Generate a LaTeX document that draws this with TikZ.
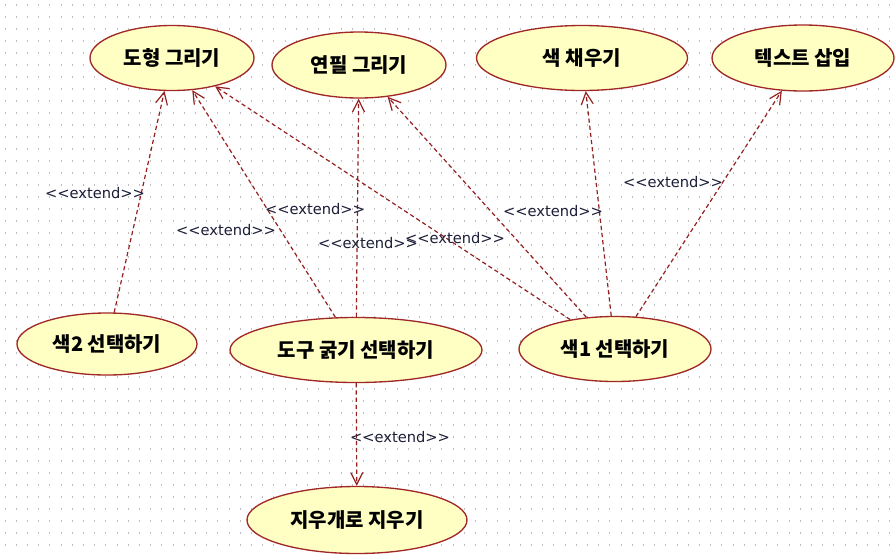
\documentclass[tikz,border=0pt]{standalone}
\usepackage{fontspec}
\newfontfamily\krfont{Noto Sans CJK KR}
\newfontfamily\lblfont{DejaVu Sans}
\usetikzlibrary{shapes.geometric,arrows.meta}
\definecolor{ucfill}{HTML}{FFFFC4}
\definecolor{ucline}{HTML}{A02828}
\definecolor{extline}{HTML}{962020}
\definecolor{lbltext}{HTML}{1C1E38}
\definecolor{griddot}{HTML}{BEBEBE}
\tikzset{
  usecase/.style={ellipse, draw=ucline, fill=ucfill, line width=1pt, inner sep=0pt,
    font=\krfont\bfseries\fontsize{15pt}{17pt}\selectfont},
  ucwh/.style 2 args={minimum width=#1*0.75pt, minimum height=#2*0.75pt},
  extend/.style={draw=extline, line width=0.9pt, dash pattern=on 3.2pt off 2.2pt,
    -{Straight Barb[length=9pt,width=9pt]}},
  lbl/.style={font=\lblfont\fontsize{11pt}{13pt}\selectfont, text=lbltext, inner sep=0pt}
}
\begin{document}
\begin{tikzpicture}[x=0.75pt,y=-0.75pt,line join=round]
  \fill[white] (0,0) rectangle (896,554);
  \useasboundingbox (0,0) rectangle (896,554);
  \foreach \r in {0,...,45}
    \draw[griddot, line width=0.8pt, dash pattern=on 0.8pt off 7.6pt] (4.6,5+12*\r) -- (896,5+12*\r);

  \node[usecase, ucwh={164}{65}] (shape) at (172,58) {도형 그리기};
  \node[usecase, ucwh={174}{66}] (pencil) at (359,65) {연필 그리기};
  \node[usecase, ucwh={211}{65}] (fill) at (582,58) {색 채우기};
  \node[usecase, ucwh={182}{66}] (textins) at (803,58) {텍스트 삽입};
  \node[usecase, ucwh={180}{62}] (color2) at (107,344) {색2 선택하기};
  \node[usecase, ucwh={252}{65}] (thick) at (356,350) {도구 굵기 선택하기};
  \node[usecase, ucwh={192}{65}] (color1) at (615,349) {색1 선택하기};
  \node[usecase, ucwh={220}{67}] (eraser) at (357,520) {지우개로 지우기};

  \draw[extend] (color2) -- (shape);
  \draw[extend] (thick) -- (shape);
  \draw[extend] (thick) -- (pencil);
  \draw[extend] (color1) -- (shape);
  \draw[extend] (color1) -- (pencil);
  \draw[extend] (color1) -- (fill);
  \draw[extend] (color1) -- (textins);
  \draw[extend] (thick) -- (eraser);

  \node[lbl] (ext1) at (95,193) {<<extend>>};
  \node[lbl] (ext2) at (226,230) {<<extend>>};
  \node[lbl] (ext3) at (315,209) {<<extend>>};
  \node[lbl] (ext4) at (368,243) {<<extend>>};
  \node[lbl] (ext5) at (455,238) {<<extend>>};
  \node[lbl] (ext6) at (553,211) {<<extend>>};
  \node[lbl] (ext7) at (673,182) {<<extend>>};
  \node[lbl] (ext8) at (400,437) {<<extend>>};
\end{tikzpicture}
\end{document}
